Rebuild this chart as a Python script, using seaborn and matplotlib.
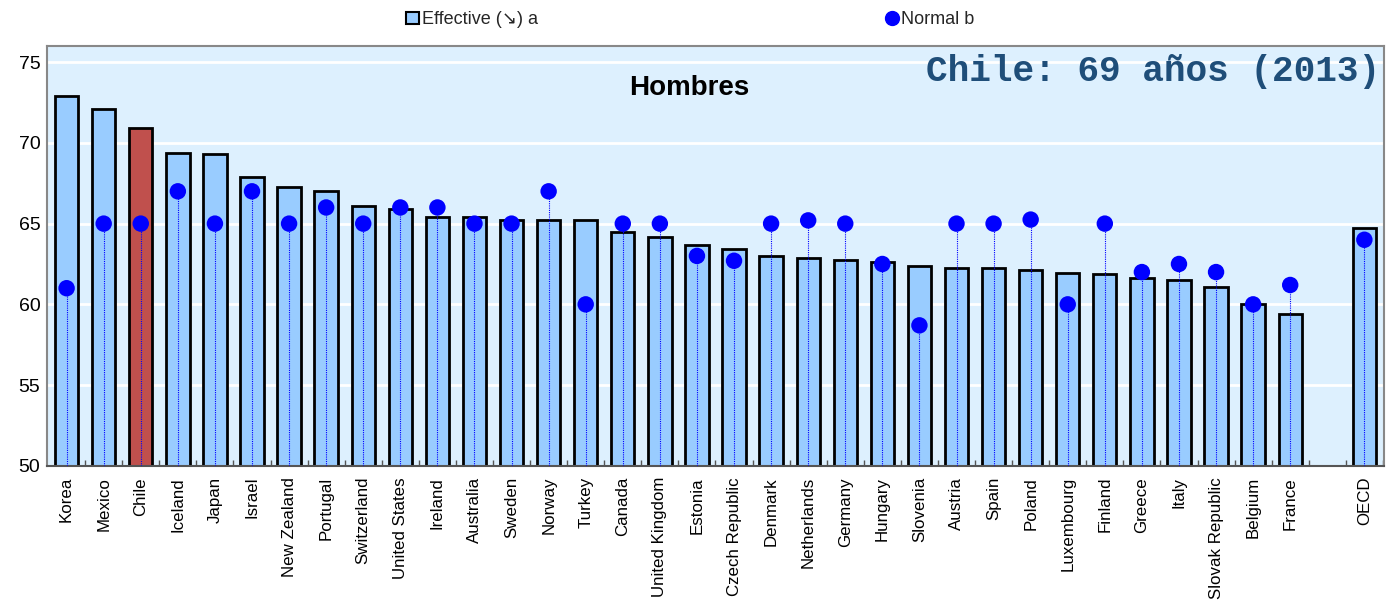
import numpy as np
import pandas as pd
import seaborn as sns
import matplotlib.pyplot as plt
from matplotlib.patches import Patch
from matplotlib.lines import Line2D

countries = ['Korea', 'Mexico', 'Chile', 'Iceland', 'Japan', 'Israel', 'New Zealand',
             'Portugal', 'Switzerland', 'United States', 'Ireland', 'Australia', 'Sweden',
             'Norway', 'Turkey', 'Canada', 'United Kingdom', 'Estonia', 'Czech Republic',
             'Denmark', 'Netherlands', 'Germany', 'Hungary', 'Slovenia', 'Austria', 'Spain',
             'Poland', 'Luxembourg', 'Finland', 'Greece', 'Italy', 'Slovak Republic',
             'Belgium', 'France', 'OECD']
effective = [72.9, 72.1, 70.9, 69.4, 69.3, 67.9, 67.25, 67.05, 66.1, 65.9, 65.4, 65.4,
             65.25, 65.2, 65.2, 64.5, 64.15, 63.7, 63.4, 63.0, 62.9, 62.75, 62.6, 62.35,
             62.25, 62.25, 62.15, 61.95, 61.9, 61.65, 61.5, 61.1, 60.0, 59.4, 64.7]
normal = [61, 65, 65, 67, 65, 67, 65, 66, 65, 66, 66, 65, 65, 67, 60, 65, 65, 63, 62.7,
          65, 65.2, 65, 62.5, 58.7, 65, 65, 65.25, 60, 65, 62, 62.5, 62, 60, 61.2, 64]
highlight = 'Chile'

# empty slot between France and OECD
order = countries[:-1] + [' '] + countries[-1:]

df = pd.DataFrame({'country': countries, 'effective': effective, 'normal': normal})
bar_blue = '#99CCFF'
bar_red = '#C0504D'
palette = {c: (bar_red if c == highlight else bar_blue) for c in countries}

sns.set_theme(style='white')
plt.rcParams['font.family'] = ['Liberation Sans', 'DejaVu Sans']

fig, ax = plt.subplots(figsize=(13.92, 6.05), dpi=100)
fig.subplots_adjust(left=0.034, right=0.994, top=0.924, bottom=0.23)
ax.set_facecolor('#DDF0FE')

sns.barplot(data=df, x='country', y='effective', hue='country', order=order,
            palette=palette, saturation=1, legend=False, width=0.63, edgecolor='black',
            linewidth=2, ax=ax, zorder=2)

pos = [order.index(c) for c in countries]
ax.vlines(pos, 50, normal, colors='blue', linestyles=(0, (1, 1)), linewidth=0.8, zorder=3)
ax.scatter(pos, normal, s=140, color='blue', zorder=4, edgecolors='none')

ax.set_ylim(50, 76)
ax.set_xlim(-0.52, len(order) - 0.48)
ax.set_yticks([50, 55, 60, 65, 70, 75])
ax.yaxis.grid(True, color='white', linewidth=2)
ax.set_axisbelow(True)
ax.set_xlabel('')
ax.set_ylabel('')
ax.tick_params(axis='y', labelsize=14, length=0, pad=5, labelcolor='black')
ax.tick_params(axis='x', labelsize=12.2, length=0, pad=8, labelcolor='black')
ax.set_xticks(range(len(order)))
ax.set_xticklabels(order, rotation=90)
ax.set_xticks(np.arange(len(order)) + 0.5, minor=True)
ax.tick_params(axis='x', which='minor', direction='in', length=4, color='#555555', bottom=True)

for side in ['top', 'right', 'left']:
    ax.spines[side].set_color('#888888')
    ax.spines[side].set_linewidth(1.5)
ax.spines['bottom'].set_color('#555555')
ax.spines['bottom'].set_linewidth(1.5)

ax.text(0.48, 0.9, 'Hombres', transform=ax.transAxes, ha='center', va='center',
        fontsize=20, fontweight='bold', color='black')
ax.text(0.997, 0.94, 'Chile: 69 años (2013)', transform=ax.transAxes, ha='right',
        va='center', fontsize=26, fontweight='bold', color='#1F4E79',
        family=['Liberation Mono', 'DejaVu Sans Mono'])

handles = [Patch(facecolor=bar_blue, edgecolor='black', linewidth=1.5, label='Effective (↘) a'),
           Line2D([], [], marker='o', linestyle='none', color='blue', markersize=10,
                  label='Normal b')]
fig.legend(handles=handles, loc='upper center', bbox_to_anchor=(0.496, 1.008), ncol=2,
           frameon=False, fontsize=13, handlelength=0.7, handletextpad=0.15,
           columnspacing=19.3)

fig.savefig('out.png', dpi=100)
